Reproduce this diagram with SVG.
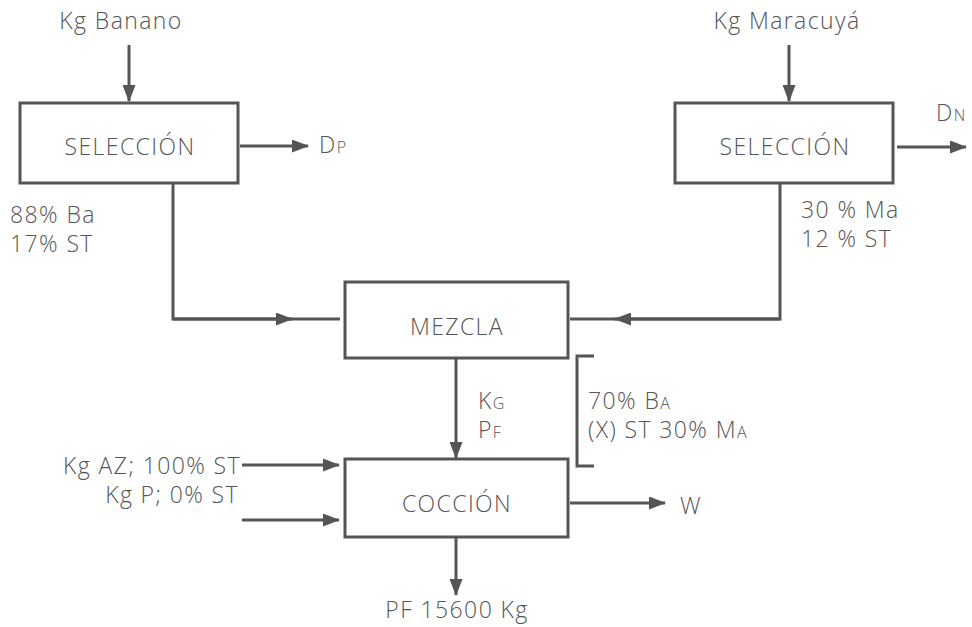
<svg xmlns="http://www.w3.org/2000/svg" width="972" height="627" viewBox="0 0 972 627">
<defs>
<marker id="ah" markerWidth="17" markerHeight="13" refX="16" refY="6.5" orient="auto" markerUnits="userSpaceOnUse">
<path d="M0,0 L17,6.5 L0,13 Z" fill="#555555"/>
</marker>
<style>
text{font-family:"Open Sans","DejaVu Sans",sans-serif;font-weight:300;font-size:23px;letter-spacing:1.4px;fill:#555555}
.box{fill:#ffffff;stroke:#555555;stroke-width:3}
.ln{fill:none;stroke:#555555;stroke-width:3}
.sc{font-variant:small-caps}
.c{text-anchor:middle}
.r{text-anchor:end}
</style>
</defs>
<g id="connectors">
<line class="ln" x1="129" y1="45" x2="129" y2="101" marker-end="url(#ah)"/>
<line class="ln" x1="240" y1="146" x2="308" y2="146" marker-end="url(#ah)"/>
<line class="ln" x1="789" y1="45" x2="789" y2="101" marker-end="url(#ah)"/>
<line class="ln" x1="897" y1="147" x2="966" y2="147" marker-end="url(#ah)"/>
<polyline class="ln" points="173,184 173,319 340,319"/>
<line class="ln" x1="173" y1="319" x2="292" y2="319" marker-end="url(#ah)"/>
<polyline class="ln" points="780,184 780,319 570,319"/>
<line class="ln" x1="780" y1="319" x2="615" y2="319" marker-end="url(#ah)"/>
<line class="ln" x1="456" y1="358" x2="456" y2="458" marker-end="url(#ah)"/>
<polyline class="ln" points="594,356 577,356 577,466 594,466"/>
<line class="ln" x1="242" y1="465" x2="339" y2="465" marker-end="url(#ah)"/>
<line class="ln" x1="242" y1="520" x2="339" y2="520" marker-end="url(#ah)"/>
<line class="ln" x1="570" y1="503" x2="665" y2="503" marker-end="url(#ah)"/>
<line class="ln" x1="456" y1="537" x2="456" y2="595" marker-end="url(#ah)"/>
</g>
<g id="sel-banano">
<rect class="box" x="20" y="103" width="218" height="80"/>
<text class="c" x="130" y="155">SELECCIÓN</text>
</g>
<g id="sel-maracuya">
<rect class="box" x="675" y="103" width="218" height="80"/>
<text class="c" x="785" y="155">SELECCIÓN</text>
</g>
<g id="mezcla">
<rect class="box" x="345" y="282" width="223" height="76"/>
<text class="c" x="457" y="335">MEZCLA</text>
</g>
<g id="coccion">
<rect class="box" x="345" y="459" width="223" height="78"/>
<text class="c" x="457" y="512">COCCIÓN</text>
</g>
<g id="labels">
<text class="c" x="121" y="29">Kg Banano</text>
<text class="c" x="787" y="29">Kg Maracuyá</text>
<text class="sc" x="319" y="153">Dp</text>
<text class="sc" x="936" y="121">Dn</text>
<text x="10" y="223">88% Ba</text>
<text x="10" y="252">17% ST</text>
<text x="801" y="218">30 % Ma</text>
<text x="801" y="247">12 % ST</text>
<text class="sc" x="478" y="409">Kg</text>
<text class="sc" x="478" y="438">Pf</text>
<text class="sc" x="588" y="409">70% Ba</text>
<text class="sc" x="588" y="438">(X) ST 30% Ma</text>
<text class="r" x="241" y="474">Kg AZ; 100% ST</text>
<text class="r" x="239" y="503">Kg P; 0% ST</text>
<text x="680" y="514">W</text>
<text class="c" x="457" y="618">PF 15600 Kg</text>
</g>
</svg>
